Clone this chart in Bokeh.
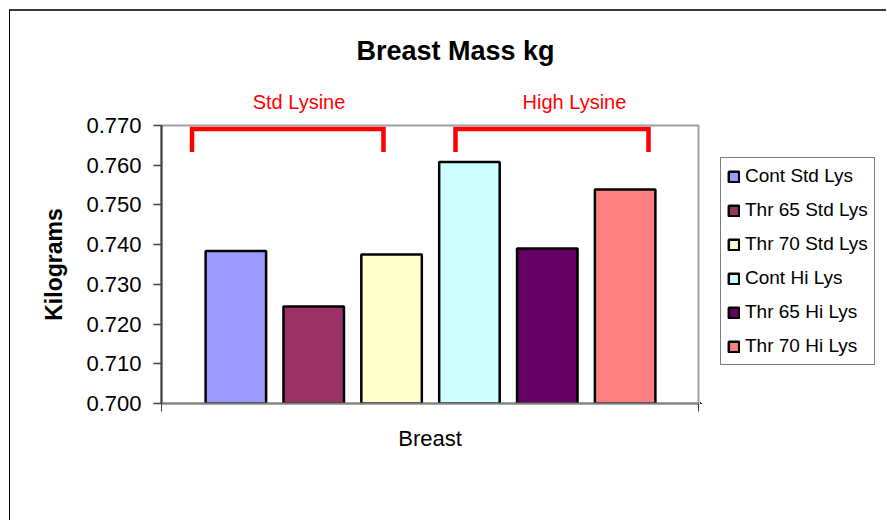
from bokeh.plotting import figure
from bokeh.layouts import row
from bokeh.models import (Range1d, FixedTicker, Legend, LegendItem, LinearAxis,
                          ColumnDataSource, PrintfTickFormatter)
from bokeh.embed import file_html
from bokeh.resources import INLINE

# ---- data ----
categories = ["Cont Std Lys", "Thr 65 Std Lys", "Thr 70 Std Lys",
              "Cont Hi Lys", "Thr 65 Hi Lys", "Thr 70 Hi Lys"]
values = [0.7384, 0.7244, 0.7375, 0.7608, 0.7390, 0.7539]
colors = ["#9999FF", "#993366", "#FFFFCC", "#CCFFFF", "#660066", "#FF8080"]
y_ticks = [0.700, 0.710, 0.720, 0.730, 0.740, 0.750, 0.760, 0.770]
group_labels = ["Std Lysine", "High Lysine"]
title_text = "Breast Mass kg"
x_label = "Breast"
y_label = "Kilograms"

# ---- annotation geometry (in data units) ----
x_start, x_end = -0.955, 5.942
bar_width = 0.777
bracket_x = [(-0.563, 1.896), (2.821, 5.30)]
bracket_top, bracket_leg = 0.76912, 0.76333
group_label_x = [0.811, 4.349]

xs = list(range(len(categories)))
src = ColumnDataSource(dict(x=xs, top=values, color=colors, name=categories))

H = 509
p = figure(width=690, height=H, output_backend="svg", toolbar_location=None,
           x_range=Range1d(x_start, x_end), y_range=Range1d(y_ticks[0], y_ticks[-1]),
           min_border_left=151, min_border_right=2, min_border_top=114,
           min_border_bottom=117)

r = p.vbar(x="x", top="top", bottom=y_ticks[0], width=bar_width, source=src,
           fill_color="color", line_color="black", line_width=2.5)

p.xgrid.visible = False
p.ygrid.visible = False
p.outline_line_color = "#a0a0a0"
p.outline_line_width = 2

# title
p.title.text = title_text
p.title.align = "left"
p.title.offset = 195
p.title.text_font = "Liberation Sans"
p.title.text_font_size = "27px"
p.title.text_font_style = "bold"
p.title.text_color = "black"
p.title.standoff = 44

# y axis
ya = p.yaxis[0]
ya.ticker = FixedTicker(ticks=y_ticks)
ya.formatter = PrintfTickFormatter(format="%.3f")
ya.major_label_text_font = "Liberation Sans"
ya.major_label_text_font_size = "22px"
ya.major_label_text_color = "black"
ya.major_label_standoff = 12
ya.major_tick_out = 8
ya.major_tick_in = 0
ya.minor_tick_out = 0
ya.minor_tick_in = 0
ya.axis_line_color = "#404040"
ya.axis_line_width = 2
ya.major_tick_line_color = "#404040"
ya.major_tick_line_width = 1.5
ya.axis_label = y_label
ya.axis_label_text_font = "Liberation Sans"
ya.axis_label_text_font_size = "23px"
ya.axis_label_text_font_style = "bold"
ya.axis_label_text_color = "black"
ya.axis_label_standoff = 16

# x axis
xa = p.xaxis[0]
xa.ticker = FixedTicker(ticks=[x_start, x_end])
xa.major_label_overrides = {x_start: "", x_end: ""}
xa.major_label_text_font_size = "1px"
xa.major_label_standoff = 0
xa.major_tick_out = 8
xa.major_tick_in = 0
xa.minor_tick_out = 0
xa.axis_line_color = "#808080"
xa.axis_line_width = 2
xa.major_tick_line_color = "#404040"
xa.axis_label = x_label
xa.axis_label_text_font = "Liberation Sans"
xa.axis_label_text_font_size = "22px"
xa.axis_label_text_font_style = "normal"
xa.axis_label_text_color = "black"
xa.axis_label_standoff = 14

# group labels as a top axis
ga = LinearAxis(ticker=FixedTicker(ticks=group_label_x),
                major_label_overrides={gx: gl for gx, gl in zip(group_label_x, group_labels)},
                axis_line_color=None, major_tick_line_color=None, minor_tick_line_color=None,
                major_tick_out=0, major_tick_in=0, minor_tick_out=0, minor_tick_in=0,
                major_label_standoff=13, major_label_text_color="#FF0000",
                major_label_text_font="Liberation Sans", major_label_text_font_size="20px")
p.add_layout(ga, "above")

# brackets
for (x0, x1) in bracket_x:
    p.line(x=[x0, x0, x1, x1], y=[bracket_leg, bracket_top, bracket_top, bracket_leg],
           line_color="#FF0000", line_width=4.5, line_join="miter")

# ---- legend panel (separate figure to the right; its frame aligns with the plot's) ----
q = figure(width=186, height=H, output_backend="svg", toolbar_location=None,
           x_range=Range1d(100, 101), y_range=Range1d(100, 101),
           x_axis_location=None, y_axis_location=None, min_border=0,
           outline_line_color=None)
q.grid.visible = False
q.title.visible = False
rq = q.vbar(x="x", top="top", bottom=y_ticks[0], width=bar_width, source=src,
            fill_color="color", line_color="black", line_width=2.5)

items = [LegendItem(label=c, renderers=[rq], index=i) for i, c in enumerate(categories)]
legend = Legend(items=items, location=(20, 38), orientation="vertical",
                border_line_color="black", border_line_width=1,
                background_fill_color="white", background_fill_alpha=1,
                label_text_font="Liberation Sans", label_text_font_size="19px",
                label_text_color="black", glyph_width=13, glyph_height=13,
                label_height=24, spacing=10, padding=6, margin=0,
                label_standoff=5)
q.add_layout(legend, "center")

layout = row(p, q)
layout.styles = {"border-top": "2px solid #3a3a3a", "border-left": "1px solid #000000",
                 "margin-left": "9px", "margin-top": "9px"}

open("out.html", "w").write(file_html(layout, INLINE))
